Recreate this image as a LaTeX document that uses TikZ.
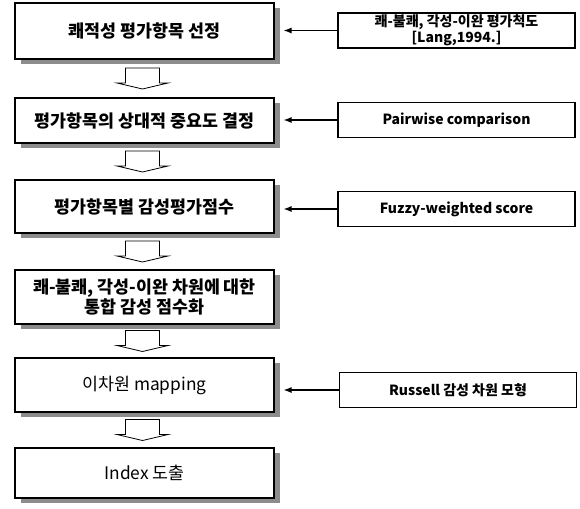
\documentclass[tikz,border=0pt]{standalone}
\usepackage{fontspec}
\setmainfont{Noto Sans CJK KR}
\usetikzlibrary{calc,shadows,arrows.meta}

% hollow block arrow between two steps
\newcommand{\stepdown}[2]{%
  \coordinate (mid) at ($(#1.south)!0.5!(#2.north)+(-2,0)$);
  \draw[hollow] ($(mid)+(-17,-10.5)$) -- ++(34,0) -- ++(0,15) -- ++(8.5,0)
    -- ++(-25.5,6) -- ++(-25.5,-6) -- ++(8.5,0) -- cycle;
}

\begin{document}
\begin{tikzpicture}[x=0.75pt,y=-0.75pt,
    stepbox/.style={draw,line width=0.8pt,fill=white,minimum width=194.25pt,
      align=center,inner sep=1pt,
      drop shadow={shadow xshift=4.5pt,shadow yshift=-3.5pt,fill=black!45,opacity=1},
      font=\fontsize{13}{14}\selectfont\bfseries},
    plainbox/.style={stepbox,font=\fontsize{13}{14}\selectfont},
    srcbox/.style={draw,line width=0.8pt,fill=white,minimum width=177.75pt,
      minimum height=26.25pt,align=center,inner sep=1pt,
      font=\fontsize{10.5}{10}\selectfont\bfseries},
    feed/.style={line width=0.9pt,-{Latex[length=6pt,width=4.5pt]}},
    hollow/.style={draw,line width=0.6pt,fill=white}]
  \useasboundingbox (0,0) rectangle (580,508);

  % main steps
  \node[stepbox,minimum height=42pt] (s1) at (144.5,31) {쾌적성 평가항목 선정};
  \node[stepbox,minimum height=33.75pt] (s2) at (144.5,120.5) {평가항목의 상대적 중요도 결정};
  \node[stepbox,minimum height=39.75pt] (s3) at (144.5,206.5) {평가항목별 감성평가점수};
  \node[stepbox,minimum height=40.5pt] (s4) at (144.5,297) {쾌-불쾌, 각성-이완 차원에 대한\\통합 감성 점수화};
  \node[plainbox,minimum height=40.5pt] (s5) at (144.5,385) {이차원 mapping};
  \node[plainbox,minimum height=37.5pt] (s6) at (144.5,473) {Index 도출};

  \stepdown{s1}{s2}
  \stepdown{s2}{s3}
  \stepdown{s3}{s4}
  \stepdown{s4}{s5}
  \stepdown{s5}{s6}

  % inputs on the right
  \node[srcbox] (r1) at (456.5,30.5) {쾌-불쾌, 각성-이완 평가척도\\{[}Lang,1994.{]}};
  \node[srcbox] (r2) at (456.5,120) {Pairwise comparison};
  \node[srcbox] (r3) at (456.5,209) {Fuzzy-weighted score};
  \node[srcbox] (r5) at (458,390) {Russell 감성 차원 모형};

  \draw[feed] (r1.west) -- ([xshift=6.75pt]s1.east |- r1.west);
  \draw[feed] (r2.west) -- ([xshift=6.75pt]s2.east |- r2.west);
  \draw[feed] (r3.west) -- ([xshift=6.75pt]s3.east |- r3.west);
  \draw[feed] (r5.west) -- ([xshift=6.75pt]s5.east |- r5.west);
\end{tikzpicture}
\end{document}
